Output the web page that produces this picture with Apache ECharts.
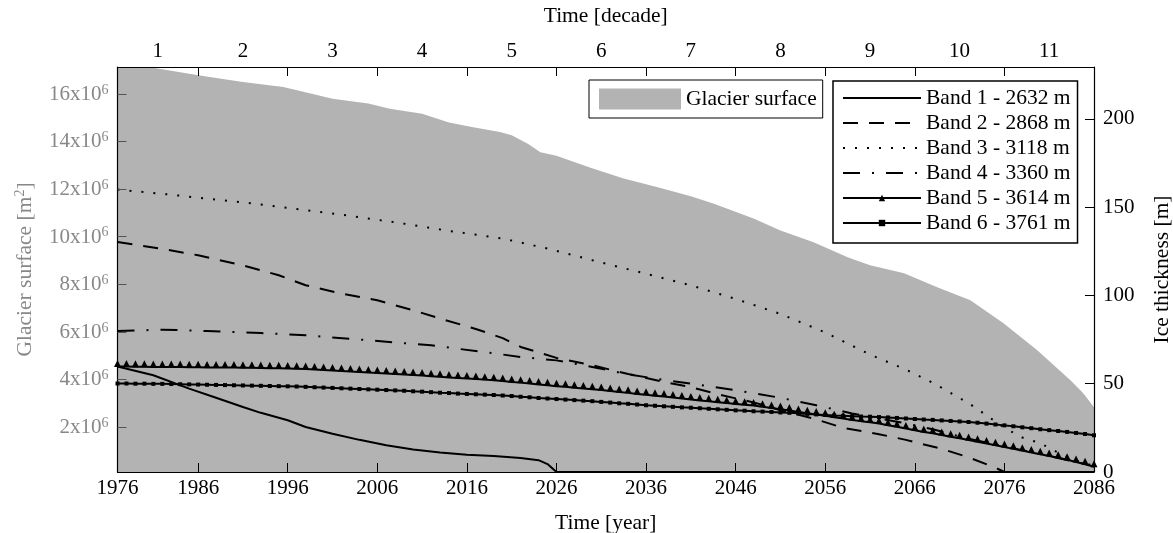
<!DOCTYPE html>
<html>
<head>
<meta charset="utf-8">
<script src="https://cdn.jsdelivr.net/npm/echarts@6/dist/echarts.min.js"></script>
<style>
  html, body { margin: 0; padding: 0; background: #fff; }
  #main { width: 1173px; height: 533px; }
</style>
</head>
<body>
<div id="main"></div>
<script>
// axis ticks / labels
var xTickValues = [1977, 1986, 1996, 2006, 2016, 2026, 2036, 2046, 2056, 2066, 2076, 2086];
var xTickLabels = ['1976', '1986', '1996', '2006', '2016', '2026', '2036', '2046', '2056', '2066', '2076', '2086'];
var decadeTicks = [1986, 1996, 2006, 2016, 2026, 2036, 2046, 2056, 2066, 2076];
var decadeLabelPos = [1981.5, 1991, 2001, 2011, 2021, 2031, 2041, 2051, 2061, 2071, 2081];
var decadeLabels = ['1', '2', '3', '4', '5', '6', '7', '8', '9', '10', '11'];
var surfaceTicks = [2, 4, 6, 8, 10, 12, 14, 16];       // x10^6 m2
var thickTicks = [0, 50, 100, 150, 200];

// glacier surface, in 10^6 m2
var surfaceYears = [1977, 1981, 1986, 1991, 1995.5, 1997.4, 2001, 2005, 2007.4, 2011, 2014, 2016.7, 2019.7, 2021,
  2022.8, 2024.2, 2026, 2029.8, 2033.5, 2037.3, 2041, 2043.5, 2048, 2051, 2054.7, 2058.5, 2061, 2064.8, 2068.5,
  2072.2, 2075.9, 2079.7, 2083.4, 2084.8, 2086];
var surfaceArea = [17.13, 17.1, 16.78, 16.5, 16.29, 16.12, 15.8, 15.6, 15.38, 15.17, 14.8, 14.6, 14.4, 14.26,
  13.9, 13.55, 13.4, 12.9, 12.44, 12.08, 11.7, 11.39, 10.76, 10.26, 9.77, 9.14, 8.8, 8.46, 7.87,
  7.33, 6.36, 5.22, 3.96, 3.42, 2.83];

// ice thickness [m] per band
var band1Years = [1977, 1981, 1985, 1988, 1991, 1993, 1996, 1998, 2001, 2004, 2007, 2010, 2013, 2016, 2019, 2022, 2024, 2025, 2026, 2086];
var band1Thick = [59.7, 54.8, 47.2, 42.0, 36.8, 33.5, 29.3, 25.5, 21.7, 18.2, 15.1, 12.8, 11.0, 9.7, 9.0, 7.9, 6.7, 4.5, 0, 0];

var band2Years = [1977, 1982, 1986, 1991, 1995, 1998, 2002, 2006, 2010, 2013, 2017, 2020, 2022, 2026, 2030, 2034, 2038,
  2041, 2044, 2048, 2051, 2055, 2058, 2062, 2065, 2069, 2072, 2075, 2076, 2086];
var band2Thick = [130.2, 126.3, 122.7, 117.0, 111.4, 105.7, 101.0, 97.2, 91.6, 86.9, 81.0, 75.8, 70.8, 64.6, 60.4, 55.5, 51.0,
  48.1, 44.0, 39.4, 35.0, 29.8, 25.0, 21.4, 18.2, 13.1, 8.3, 2.4, 0, 0];

var band3Years = [1977, 1982, 1987, 1993, 1998, 2003, 2009, 2014, 2020, 2025, 2030, 2035, 2041, 2046, 2051, 2056, 2061,
  2065, 2068, 2072, 2074, 2076, 2078, 2080, 2082, 2084, 2086];
var band3Thick = [159.9, 157.5, 154.8, 151.5, 148.2, 145.0, 140.6, 136.5, 132.2, 126.5, 119.9, 113.5, 105.7, 98.0, 89.5, 79.0, 66.5,
  58.0, 50.5, 39.0, 32.1, 25.0, 19.5, 16.3, 11.0, 6.5, 3.5];

var band4Years = [1977, 1982, 1987, 1993, 1998, 2005, 2012, 2019, 2022, 2026, 2030, 2034, 2037, 2041, 2046, 2051, 2055,
  2059, 2062, 2065, 2068, 2072, 2076, 2081, 2086];
var band4Thick = [79.8, 80.6, 79.8, 78.7, 77.4, 74.6, 71.7, 67.2, 65.1, 63.2, 59.5, 55.3, 52.9, 50.0, 46.3, 42.0, 37.8,
  33.1, 30.3, 27.5, 24.2, 18.8, 14.5, 9.0, 3.5];

// bands 5 and 6 have a marker every year
var annualYears = [1977, 1978, 1979, 1980, 1981, 1982, 1983, 1984, 1985, 1986,
  1987, 1988, 1989, 1990, 1991, 1992, 1993, 1994, 1995, 1996,
  1997, 1998, 1999, 2000, 2001, 2002, 2003, 2004, 2005, 2006,
  2007, 2008, 2009, 2010, 2011, 2012, 2013, 2014, 2015, 2016,
  2017, 2018, 2019, 2020, 2021, 2022, 2023, 2024, 2025, 2026,
  2027, 2028, 2029, 2030, 2031, 2032, 2033, 2034, 2035, 2036,
  2037, 2038, 2039, 2040, 2041, 2042, 2043, 2044, 2045, 2046,
  2047, 2048, 2049, 2050, 2051, 2052, 2053, 2054, 2055, 2056,
  2057, 2058, 2059, 2060, 2061, 2062, 2063, 2064, 2065, 2066,
  2067, 2068, 2069, 2070, 2071, 2072, 2073, 2074, 2075, 2076,
  2077, 2078, 2079, 2080, 2081, 2082, 2083, 2084, 2085, 2086];

var band5Thick = [59.7, 59.7, 59.6, 59.6, 59.5, 59.5, 59.4, 59.4, 59.3, 59.3,
  59.2, 59.2, 59.1, 59.1, 59.0, 59.0, 58.9, 58.8, 58.7, 58.6,
  58.5, 58.3, 58.1, 57.8, 57.5, 57.2, 56.9, 56.6, 56.3, 56.0,
  55.8, 55.5, 55.2, 54.9, 54.6, 54.2, 53.9, 53.5, 53.2, 52.9,
  52.6, 52.3, 51.9, 51.5, 51.0, 50.6, 50.1, 49.6, 49.1, 48.6,
  48.2, 47.7, 47.3, 46.9, 46.4, 45.9, 45.3, 44.8, 44.2, 43.7,
  43.2, 42.7, 42.2, 41.6, 41.0, 40.5, 40.0, 39.5, 39.0, 38.5,
  38.1, 37.6, 37.0, 36.3, 35.6, 34.8, 34.0, 33.2, 32.5, 31.8,
  31.0, 30.3, 29.5, 28.8, 28.2, 27.4, 26.5, 25.6, 24.6, 23.6,
  22.7, 21.9, 21.0, 20.0, 19.1, 18.1, 17.1, 16.1, 15.1, 14.1,
  13.1, 12.1, 11.1, 10.1, 9.1, 8.1, 6.9, 5.7, 4.4, 3.0];

var band6Thick = [50.1, 50.1, 50.0, 50.0, 49.9, 49.9, 49.8, 49.7, 49.6, 49.5,
  49.4, 49.3, 49.2, 49.1, 49.0, 48.9, 48.8, 48.7, 48.6, 48.5,
  48.4, 48.2, 48.0, 47.8, 47.6, 47.4, 47.2, 47.0, 46.8, 46.6,
  46.4, 46.2, 46.0, 45.7, 45.5, 45.2, 44.9, 44.7, 44.4, 44.2,
  44.0, 43.8, 43.6, 43.3, 43.0, 42.6, 42.3, 41.9, 41.6, 41.3,
  41.0, 40.7, 40.4, 40.1, 39.7, 39.3, 38.9, 38.6, 38.2, 37.8,
  37.5, 37.2, 36.9, 36.6, 36.4, 36.1, 35.8, 35.5, 35.2, 34.9,
  34.7, 34.4, 34.2, 34.0, 33.7, 33.5, 33.2, 32.9, 32.6, 32.3,
  32.0, 31.8, 31.6, 31.4, 31.3, 31.1, 30.9, 30.6, 30.3, 30.0,
  29.7, 29.5, 29.2, 28.9, 28.6, 28.3, 27.9, 27.4, 26.9, 26.4,
  25.9, 25.3, 24.8, 24.2, 23.7, 23.2, 22.7, 22.1, 21.5, 20.8];

var bandNames = ['Band 1 - 2632 m', 'Band 2 - 2868 m', 'Band 3 - 3118 m',
  'Band 4 - 3360 m', 'Band 5 - 3614 m', 'Band 6 - 3761 m'];

var FONT = 'Liberation Serif';
var GRAY = '#888888';
var TICK_FS = 21;
var TITLE_FS = 21.5;

function zip(xs, ys) {
  return xs.map(function (x, i) { return [x, ys[i]]; });
}

var chart = echarts.init(document.getElementById('main'));

var X_MIN = 1977, X_MAX = 2086;

function bandLine(name, years, vals, dash, extra) {
  var s = {
    name: name,
    type: 'line',
    xAxisIndex: 0,
    yAxisIndex: 1,
    data: zip(years, vals),
    symbol: 'none',
    color: '#000',
    lineStyle: { color: '#000', width: 2, type: dash },
    z: 5
  };
  return Object.assign(s, extra || {});
}

// bands without markers: hide the legend symbol, keep the line
var bandLegendData = bandNames.map(function (n, i) {
  if (i < 4) return { name: n, itemStyle: { color: 'rgba(0,0,0,0)', borderWidth: 0 } };
  return { name: n };
});

var option = {
  animation: false,
  backgroundColor: '#fff',
  textStyle: { fontFamily: FONT },
  grid: { left: 117.5, right: 79, top: 67, bottom: 61, outerBoundsMode: 'none', containLabel: false },
  legend: [
    {
      data: [{ name: 'Glacier surface', icon: 'rect' }],
      left: 589, top: 80,
      orient: 'vertical',
      itemWidth: 82, itemHeight: 21,
      padding: [8, 6, 8, 10],
      backgroundColor: '#fff',
      borderColor: '#000', borderWidth: 1,
      selectedMode: false,
      textStyle: { fontFamily: FONT, fontSize: TITLE_FS, color: '#000' }
    },
    {
      data: bandLegendData,
      left: 833, top: 81,
      orient: 'vertical',
      itemWidth: 78, itemHeight: 8,
      itemGap: 3,
      padding: [6, 7, 9, 9],
      backgroundColor: '#fff',
      borderColor: '#000', borderWidth: 1.5,
      selectedMode: false,
      textStyle: { fontFamily: FONT, fontSize: TITLE_FS, lineHeight: 21, color: '#000' }
    }
  ],
  xAxis: [
    {
      type: 'value', position: 'bottom',
      min: X_MIN, max: X_MAX,
      name: 'Time [year]', nameLocation: 'middle', nameGap: 40,
      nameTextStyle: { fontFamily: FONT, fontSize: TITLE_FS, color: '#000' },
      axisLine: { lineStyle: { color: '#000', width: 1.2 } },
      axisTick: { inside: true, length: 9, customValues: xTickValues, lineStyle: { color: '#000' } },
      axisLabel: {
        customValues: xTickValues, margin: 6,
        fontFamily: FONT, fontSize: TICK_FS, color: '#000',
        formatter: function (v) { var i = xTickValues.indexOf(v); return i >= 0 ? xTickLabels[i] : ''; }
      },
      splitLine: { show: false },
      z: 10
    },
    {
      type: 'value', position: 'top',
      min: X_MIN, max: X_MAX,
      name: 'Time [decade]', nameLocation: 'middle', nameGap: 40,
      nameTextStyle: { fontFamily: FONT, fontSize: TITLE_FS, color: '#000' },
      axisLine: { lineStyle: { color: '#000', width: 1.2 } },
      axisTick: { inside: true, length: 9, customValues: decadeTicks, lineStyle: { color: '#000' } },
      axisLabel: {
        customValues: decadeLabelPos, margin: 5,
        fontFamily: FONT, fontSize: TICK_FS, color: '#000',
        formatter: function (v) { var i = decadeLabelPos.indexOf(v); return i >= 0 ? decadeLabels[i] : ''; }
      },
      splitLine: { show: false },
      z: 10
    }
  ],
  yAxis: [
    {
      type: 'value', position: 'left',
      min: 0.11, max: 17.13,
      name: 'Glacier surface [m{s|2}]', nameLocation: 'middle', nameGap: 80,
      nameTextStyle: {
        fontFamily: FONT, fontSize: TITLE_FS, color: GRAY, lineHeight: 24,
        rich: {
          s: { fontFamily: FONT, fontSize: 14, color: GRAY, lineHeight: 14, verticalAlign: 'top' }
        }
      },
      axisLine: { lineStyle: { color: '#000', width: 1.2 } },
      axisTick: { inside: true, length: 9, customValues: surfaceTicks, lineStyle: { color: '#555' } },
      axisLabel: {
        customValues: surfaceTicks, margin: 9,
        formatter: function (v) { return '{n|' + v + 'x10}{s|6}'; },
        rich: {
          n: { fontFamily: FONT, fontSize: TICK_FS, color: GRAY, lineHeight: 22, verticalAlign: 'bottom' },
          s: { fontFamily: FONT, fontSize: 14, color: GRAY, lineHeight: 14, verticalAlign: 'top' }
        }
      },
      splitLine: { show: false },
      z: 10
    },
    {
      type: 'value', position: 'right',
      min: 0, max: 229.3,
      name: 'Ice thickness [m]', nameLocation: 'middle', nameGap: 57,
      nameRotate: 90,
      nameTextStyle: { fontFamily: FONT, fontSize: TITLE_FS, color: '#000' },
      axisLine: { lineStyle: { color: '#000', width: 1.2 } },
      axisTick: { inside: true, length: 9, customValues: thickTicks, lineStyle: { color: '#000' } },
      axisLabel: {
        customValues: thickTicks, margin: 9,
        fontFamily: FONT, fontSize: TICK_FS, color: '#000'
      },
      splitLine: { show: false },
      z: 10
    }
  ],
  series: [
    {
      name: 'Glacier surface',
      type: 'line',
      xAxisIndex: 0, yAxisIndex: 0,
      data: zip(surfaceYears, surfaceArea),
      symbol: 'none',
      color: '#b3b3b3',
      lineStyle: { width: 0 },
      areaStyle: { color: '#b3b3b3', opacity: 1 },
      z: 1
    },
    bandLine(bandNames[0], band1Years, band1Thick, 'solid'),
    bandLine(bandNames[1], band2Years, band2Thick, [15, 11]),
    bandLine(bandNames[2], band3Years, band3Thick, [2, 10]),
    bandLine(bandNames[3], band4Years, band4Thick, [17, 12, 2, 12]),
    bandLine(bandNames[4], annualYears, band5Thick, 'solid', {
      symbol: 'triangle', symbolSize: [7, 7], symbolOffset: [0, -3],
      showSymbol: true, showAllSymbol: true,
      itemStyle: { color: '#000' }
    }),
    bandLine(bandNames[5], annualYears, band6Thick, 'solid', {
      symbol: 'rect', symbolSize: 4,
      showSymbol: true, showAllSymbol: true,
      itemStyle: { color: '#000' }
    })
  ]
};

chart.setOption(option);
</script>
</body>
</html>
